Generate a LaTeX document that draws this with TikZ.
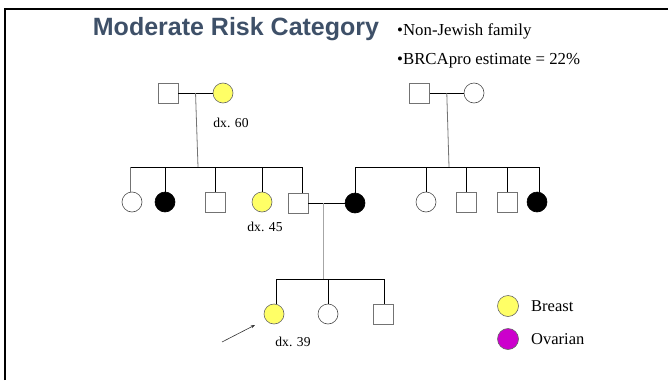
\documentclass[tikz,border=0pt]{standalone}
\usepackage{fontspec}
\usetikzlibrary{arrows.meta}
\setmainfont{Liberation Serif}
\newfontfamily\titlefont{Liberation Sans}
\definecolor{titleblue}{RGB}{62,80,104}
\definecolor{breastyellow}{RGB}{255,255,102}
\definecolor{ovarianpurple}{RGB}{204,0,204}
\tikzset{
  male/.style={draw=black!55, fill=white, rectangle, minimum size=20pt, inner sep=0pt, line width=0.7pt},
  female/.style={draw=black!70, fill=white, circle, minimum size=20pt, inner sep=0pt, line width=0.6pt},
  affected/.style={female, fill=black, draw=black},
  breast/.style={female, fill=breastyellow, draw=black!60},
  ovarian/.style={female, fill=ovarianpurple, draw=black!60},
  link/.style={draw=black, line width=0.8pt},
  glink/.style={draw=black!55, line width=0.8pt},
  lglink/.style={draw=black!35, line width=1pt},
  lbl/.style={font=\fontsize{13.6}{15}\selectfont, inner sep=0pt},
  bul/.style={font=\fontsize{16.8}{19}\selectfont, anchor=west, inner sep=0pt},
  leg/.style={font=\fontsize{16.5}{19}\selectfont, anchor=west, inner sep=0pt},
}
\begin{document}
\begin{tikzpicture}[x=1pt,y=-1pt]
\useasboundingbox (0,0) rectangle (668,380);
% frame
\draw[line width=2.4pt, black] (5,380) -- (5,9) -- (668,9);
% title and notes
\node[font=\titlefont\bfseries\fontsize{25}{28}\selectfont, text=titleblue, inner sep=0pt] (title) at (236,29) {Moderate Risk Category};
\node[bul] (note1) at (397,31) {•Non-Jewish family};
\node[bul] (note2) at (397,61) {•BRCApro estimate = 22\%};
% generation I
\node[male] (gf1) at (168,93) {};
\node[breast] (gm1) at (223,93) {};
\node[lbl] (dx60) at (231,123) {dx. 60};
\node[male] (gf2) at (419.5,93) {};
\node[female] (gm2) at (474,93) {};
\draw[link] (gf1) -- (gm1) coordinate[pos=0.5] (m1);
\draw[link] (gf2) -- (gm2) coordinate[pos=0.5] (m2);
% generation II left
\coordinate (s1a) at (130,167);
\coordinate (s1b) at (302,167);
\coordinate (d1) at (198,167);
\node[female] (a1) at (132,202) {};
\node[affected] (a2) at (165,202) {};
\node[male] (a3) at (215,202) {};
\node[breast] (a4) at (262,202) {};
\node[male] (a5) at (298,203) {};
\node[lbl] (dx45) at (265,227) {dx. 45};
\draw[glink] (m1) -- (d1);
\draw[link] (s1a) -- (s1b);
\draw[glink] (s1a) -- (a1.north -| s1a);
\draw[link] (a2.north |- s1a) -- (a2.north);
\draw[link] (a3.north |- s1a) -- (a3.north);
\draw[link] (a4.north |- s1a) -- (a4.north);
\draw[link] (s1b) -- (a5.north -| s1b);
% generation II right
\coordinate (s2a) at (355,167);
\coordinate (s2b) at (539,167);
\coordinate (d2) at (449,167);
\node[affected] (b1) at (355,203) {};
\node[female] (b2) at (426,202) {};
\node[male] (b3) at (466,202) {};
\node[male] (b4) at (507.5,202) {};
\node[affected] (b5) at (537,202) {};
\draw[glink] (m2) -- (d2);
\draw[link] (s2a) -- (s2b);
\draw[link] (s2a) -- (b1.north);
\draw[link] (b2.north |- s2a) -- (b2.north);
\draw[link] (b3.north |- s2a) -- (b3.north);
\draw[link] (b4.north |- s2a) -- (b4.north);
\draw[link] (s2b) -- (b5.north -| s2b);
% marriage II
\draw[link] (a5) -- (b1) coordinate[pos=0.43] (m3);
% generation III
\coordinate (s3a) at (276,279);
\coordinate (s3b) at (384,279);
\coordinate (d3) at (329,279);
\node[breast] (c1) at (274,314) {};
\node[female] (c2) at (328,314) {};
\node[male] (c3) at (383,314) {};
\node[lbl] (dx39) at (293,342) {dx. 39};
\draw[lglink] (m3) -- (m3 |- s3a);
\draw[link] (s3a) -- (s3b);
\draw[link] (s3a) -- (c1.north -| s3a);
\draw[link] (c2.north |- s3a) -- (c2.north);
\draw[link] (s3b) -- (c3.north -| s3b);
% proband arrow
\coordinate (arrtail) at (222,342);
\coordinate (arrhead) at (255,325);
\draw[black!80, line width=0.6pt, -{Stealth[length=4pt,width=3pt]}] (arrtail) -- (arrhead);
% legend
\node[breast, minimum size=21pt] (lg1) at (508,306) {};
\node[leg] (lgt1) at (531,306) {Breast};
\node[ovarian, minimum size=21pt] (lg2) at (508,339) {};
\node[leg] (lgt2) at (531,339) {Ovarian};
\end{tikzpicture}
\end{document}
